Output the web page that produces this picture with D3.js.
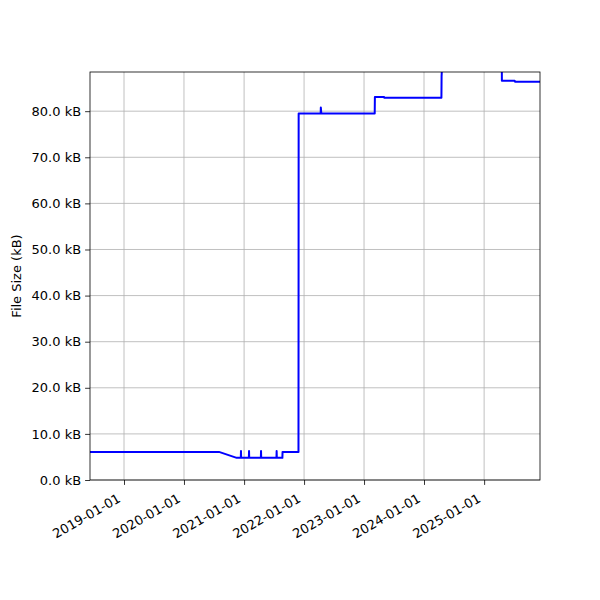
<!DOCTYPE html>
<html>
<head>
<meta charset="utf-8">
<script src="https://cdn.jsdelivr.net/npm/d3@7"></script>
<style>
  body { margin: 0; background: #fff; }
  text { font-family: "DejaVu Sans", sans-serif; }
</style>
</head>
<body>
<svg width="600" height="600"></svg>
<script>
// file size history (kB)
var dates = [
  "2018-06-08", "2020-08-01", "2020-11-17",
  "2020-12-12", "2020-12-13", "2020-12-14",
  "2021-01-30", "2021-01-31", "2021-02-01",
  "2021-04-13", "2021-04-14", "2021-04-15",
  "2021-07-17", "2021-07-18", "2021-07-19",
  "2021-08-22", "2021-08-23", "2021-11-28", "2021-11-29",
  "2022-04-12", "2022-04-13", "2022-04-16",
  "2023-03-07", "2023-03-08", "2023-05-03", "2023-05-04",
  "2024-04-16", "2024-04-17", "2024-04-23", "2024-05-01",
  "2025-04-18", "2025-04-19", "2025-07-06", "2025-07-07", "2025-12-07"
];
var sizes = [
  6.1, 6.1, 4.8,
  4.8, 6.3, 4.8,
  4.8, 6.3, 4.8,
  4.8, 6.3, 4.8,
  4.8, 6.3, 4.8,
  4.8, 6.1, 6.1, 79.5,
  79.5, 80.8, 79.5,
  79.5, 83.1, 83.1, 82.9,
  82.9, 87.6, 92.0, 95.0,
  95.0, 86.6, 86.6, 86.4, 86.4
];
var xTicks = ["2019-01-01", "2020-01-01", "2021-01-01", "2022-01-01",
              "2023-01-01", "2024-01-01", "2025-01-01"];
var yTicks = [0, 10, 20, 30, 40, 50, 60, 70, 80];

var parse = d3.utcParse("%Y-%m-%d");
var data = dates.map(function(d, i) { return {date: parse(d), size: sizes[i]}; });

var svg = d3.select("svg"),
    mLeft = 90, mRight = 540, mTop = 72, mBottom = 480;

var x = d3.scaleUtc()
    .domain([parse("2018-06-08"), parse("2025-12-07")])
    .range([mLeft, mRight]);
var y = d3.scaleLinear()
    .domain([0, 88.5])
    .range([mBottom, mTop]);

// grid
svg.append("g").selectAll("line")
    .data(xTicks)
    .join("line")
    .attr("x1", function(d) { return x(parse(d)); })
    .attr("x2", function(d) { return x(parse(d)); })
    .attr("y1", mTop).attr("y2", mBottom)
    .attr("stroke", "#b0b0b0").attr("stroke-width", 0.8);
svg.append("g").selectAll("line")
    .data(yTicks)
    .join("line")
    .attr("x1", mLeft).attr("x2", mRight)
    .attr("y1", function(d) { return y(d); })
    .attr("y2", function(d) { return y(d); })
    .attr("stroke", "#b0b0b0").attr("stroke-width", 0.8);

svg.append("clipPath").attr("id", "clip")
    .append("rect")
    .attr("x", mLeft).attr("y", mTop)
    .attr("width", mRight - mLeft).attr("height", mBottom - mTop);

var line = d3.line()
    .x(function(d) { return x(d.date); })
    .y(function(d) { return y(d.size); });

svg.append("path")
    .datum(data)
    .attr("clip-path", "url(#clip)")
    .attr("fill", "none")
    .attr("stroke", "#0000ff")
    .attr("stroke-width", 2)
    .attr("stroke-linejoin", "round")
    .attr("d", line);

// axes
var yAxis = svg.append("g")
    .attr("transform", "translate(" + mLeft + ",0)")
    .call(d3.axisLeft(y).tickValues(yTicks).tickSize(4.9).tickPadding(4)
        .tickFormat(function(d) { return d.toFixed(1) + " kB"; }));
var xAxis = svg.append("g")
    .attr("transform", "translate(0," + mBottom + ")")
    .call(d3.axisBottom(x).tickValues(xTicks.map(parse)).tickSize(4.9)
        .tickFormat(d3.utcFormat("%Y-%m-%d")));

[xAxis, yAxis].forEach(function(a) {
    a.select(".domain").remove();
    a.selectAll("line").attr("stroke", "#000").attr("stroke-width", 0.8);
    a.selectAll("text").attr("font-size", 13).attr("fill", "#000")
        .attr("font-family", "DejaVu Sans");
});
xAxis.selectAll("text")
    .attr("text-anchor", "end")
    .attr("dy", null)
    .attr("y", 0)
    .attr("transform", "translate(-3,21) rotate(-30)");

svg.append("rect")
    .attr("x", mLeft).attr("y", mTop)
    .attr("width", mRight - mLeft).attr("height", mBottom - mTop)
    .attr("fill", "none").attr("stroke", "#000").attr("stroke-width", 0.8);

svg.append("text")
    .attr("transform", "translate(21," + (mTop + mBottom) / 2 + ") rotate(-90)")
    .attr("text-anchor", "middle")
    .attr("font-size", 13)
    .text("File Size (kB)");
</script>
</body>
</html>
